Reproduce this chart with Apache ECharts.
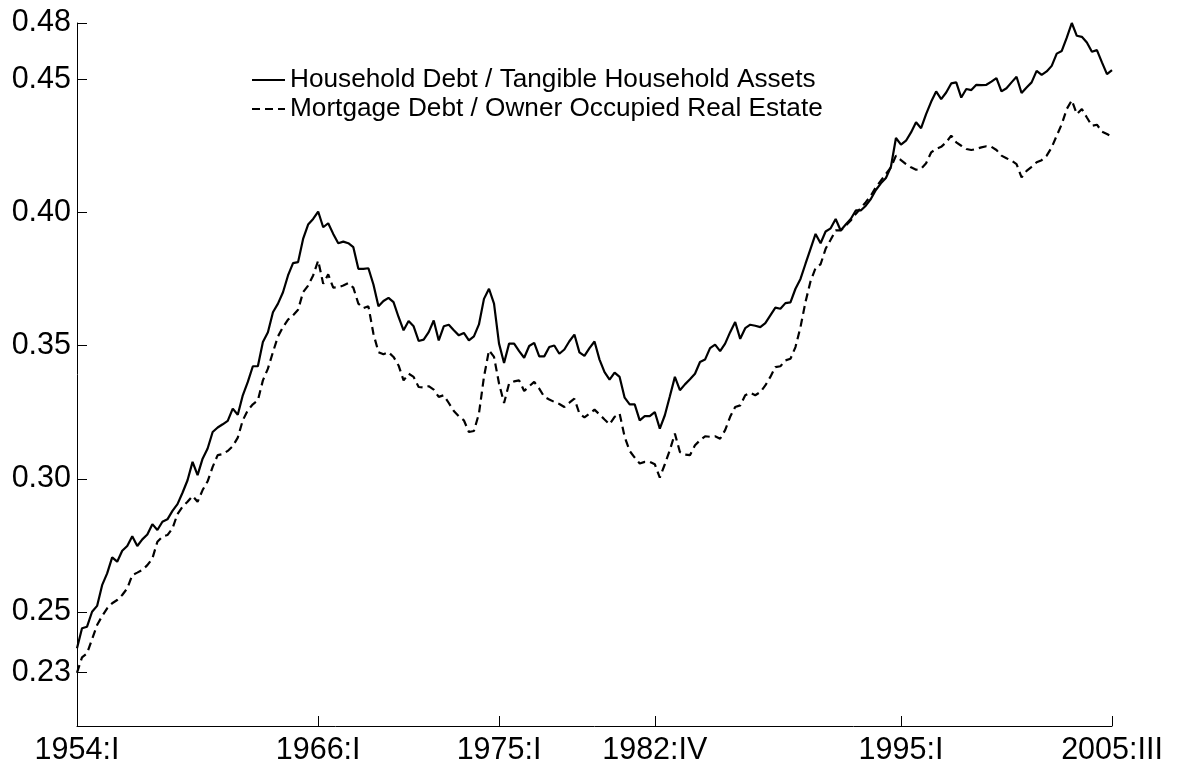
<!DOCTYPE html>
<html>
<head>
<meta charset="utf-8">
<script src="https://cdn.jsdelivr.net/npm/echarts@6/dist/echarts.min.js"></script>
<style>
html,body{margin:0;padding:0;background:#fff;}
#chart{width:1181px;height:770px;}
</style>
</head>
<body>
<div id="chart"></div>
<script>
// Quarterly categories 1954:I .. 2005:III
const romans = ['I', 'II', 'III', 'IV'];
const quarters = [];
for (let y = 1954; y <= 2005; y++) {
  for (let k = 0; k < 4; k++) {
    quarters.push(y + ':' + romans[k]);
    if (y === 2005 && k === 2) break;
  }
}
const xTickLabels = ['1954:I', '1966:I', '1975:I', '1982:IV', '1995:I', '2005:III'];
const yTickValues = [0.2272, 0.25, 0.30, 0.35, 0.40, 0.45, 0.4712];
const yTickLabels = ['0.23', '0.25', '0.30', '0.35', '0.40', '0.45', '0.48'];
const seriesNames = ['Household Debt / Tangible Household Assets', 'Mortgage Debt / Owner Occupied Real Estate'];

const householdDebt = [
0.2364,0.2439,0.2445,0.2501,0.2523,0.2601,0.2645,0.2705,0.2689,0.2730,
0.2748,0.2785,0.2748,0.2773,0.2791,0.2830,0.2808,0.2839,0.2848,0.2880,
0.2905,0.2948,0.2995,0.3064,0.3014,0.3076,0.3114,0.3176,0.3193,0.3205,
0.3218,0.3264,0.3241,0.3314,0.3364,0.3423,0.3423,0.3514,0.3551,0.3626,
0.3658,0.3701,0.3764,0.3810,0.3814,0.3901,0.3955,0.3976,0.4004,0.3945,
0.3960,0.3920,0.3885,0.3891,0.3885,0.3870,0.3789,0.3789,0.3791,0.3730,
0.3648,0.3668,0.3680,0.3664,0.3608,0.3558,0.3593,0.3573,0.3518,0.3523,
0.3551,0.3595,0.3520,0.3573,0.3579,0.3558,0.3539,0.3548,0.3520,0.3535,
0.3580,0.3676,0.3714,0.3658,0.3508,0.3435,0.3508,0.3508,0.3480,0.3455,
0.3499,0.3511,0.3460,0.3460,0.3495,0.3501,0.3470,0.3486,0.3517,0.3542,
0.3475,0.3462,0.3491,0.3516,0.3448,0.3401,0.3373,0.3399,0.3383,0.3305,
0.3280,0.3280,0.3220,0.3236,0.3236,0.3251,0.3189,0.3239,0.3310,0.3383,
0.3333,0.3355,0.3374,0.3395,0.3439,0.3448,0.3491,0.3504,0.3480,0.3508,
0.3551,0.3589,0.3526,0.3566,0.3579,0.3575,0.3570,0.3585,0.3614,0.3643,
0.3639,0.3660,0.3663,0.3714,0.3751,0.3808,0.3864,0.3920,0.3885,0.3929,
0.3941,0.3976,0.3933,0.3955,0.3976,0.4008,0.4008,0.4026,0.4051,0.4085,
0.4110,0.4130,0.4172,0.4280,0.4255,0.4270,0.4301,0.4339,0.4317,0.4370,
0.4416,0.4455,0.4426,0.4451,0.4485,0.4489,0.4432,0.4464,0.4460,0.4480,
0.4479,0.4480,0.4492,0.4505,0.4455,0.4467,0.4489,0.4510,0.4449,0.4470,
0.4489,0.4532,0.4517,0.4530,0.4551,0.4597,0.4607,0.4657,0.4712,0.4664,
0.4660,0.4639,0.4604,0.4610,0.4564,0.4520,0.4535
];

const mortgageDebt = [
0.2272,0.2330,0.2345,0.2398,0.2451,0.2485,0.2514,0.2533,0.2545,0.2564,
0.2589,0.2639,0.2648,0.2658,0.2676,0.2701,0.2764,0.2783,0.2789,0.2814,
0.2868,0.2895,0.2914,0.2936,0.2914,0.2958,0.2991,0.3045,0.3089,0.3093,
0.3105,0.3123,0.3155,0.3220,0.3258,0.3280,0.3295,0.3370,0.3414,0.3476,
0.3535,0.3570,0.3598,0.3614,0.3635,0.3701,0.3726,0.3764,0.3820,0.3733,
0.3768,0.3718,0.3720,0.3726,0.3735,0.3718,0.3658,0.3641,0.3648,0.3545,
0.3476,0.3468,0.3476,0.3458,0.3426,0.3370,0.3395,0.3383,0.3345,0.3343,
0.3348,0.3335,0.3308,0.3314,0.3285,0.3255,0.3235,0.3220,0.3176,0.3180,
0.3245,0.3383,0.3483,0.3458,0.3358,0.3285,0.3358,0.3366,0.3370,0.3330,
0.3348,0.3364,0.3339,0.3308,0.3298,0.3289,0.3281,0.3270,0.3286,0.3301,
0.3245,0.3231,0.3245,0.3260,0.3242,0.3223,0.3205,0.3233,0.3245,0.3158,
0.3105,0.3080,0.3058,0.3064,0.3064,0.3055,0.3005,0.3055,0.3108,0.3170,
0.3101,0.3091,0.3089,0.3126,0.3145,0.3160,0.3158,0.3160,0.3151,0.3183,
0.3233,0.3270,0.3276,0.3314,0.3323,0.3314,0.3326,0.3351,0.3383,0.3420,
0.3423,0.3445,0.3451,0.3495,0.3570,0.3665,0.3742,0.3792,0.3806,0.3864,
0.3898,0.3933,0.3933,0.3951,0.3970,0.3995,0.4017,0.4039,0.4064,0.4095,
0.4120,0.4145,0.4170,0.4214,0.4197,0.4182,0.4170,0.4161,0.4164,0.4185,
0.4226,0.4239,0.4247,0.4264,0.4289,0.4264,0.4251,0.4239,0.4235,0.4239,
0.4245,0.4249,0.4247,0.4235,0.4214,0.4204,0.4195,0.4182,0.4132,0.4157,
0.4172,0.4189,0.4197,0.4214,0.4245,0.4289,0.4332,0.4389,0.4422,0.4370,
0.4389,0.4357,0.4326,0.4330,0.4304,0.4295,0.4285
];

const FONT = "'Liberation Sans', Arial, Helvetica, sans-serif";
const chart = echarts.init(document.getElementById('chart'), null, {renderer: 'canvas'});
const isXTick = (i, v) => xTickLabels.indexOf(quarters[i]) >= 0;

chart.setOption({
  animation: false,
  backgroundColor: '#ffffff',
  grid: {left: 77, right: 69, top: 23, bottom: 44, containLabel: false, outerBoundsMode: 'none'},
  legend: {
    orient: 'vertical',
    left: 251,
    top: 67,
    padding: 0,
    itemGap: 3,
    itemWidth: 33,
    itemHeight: 14,
    selectedMode: false,
    itemStyle: {opacity: 0},
    textStyle: {fontFamily: FONT, fontSize: 26.2, color: '#000'},
    data: seriesNames
  },
  xAxis: {
    type: 'category',
    boundaryGap: false,
    data: quarters,
    axisLine: {show: true, lineStyle: {color: '#000', width: 1}},
    axisTick: {show: true, inside: true, length: 10, interval: isXTick, lineStyle: {color: '#000', width: 1}},
    axisLabel: {interval: isXTick, fontFamily: FONT, fontSize: 30.5, color: '#000', margin: 9},
    splitLine: {show: false}
  },
  yAxis: {
    type: 'value',
    min: 0.2072,
    max: 0.4712,
    axisLine: {show: true, lineStyle: {color: '#000', width: 1}},
    axisTick: {show: true, inside: true, length: 10, customValues: yTickValues, lineStyle: {color: '#000', width: 1}},
    axisLabel: {
      customValues: yTickValues,
      fontFamily: FONT, fontSize: 30.5, color: '#000', margin: 6,
      formatter: function (v) {
        const i = yTickValues.findIndex(t => Math.abs(t - v) < 1e-6);
        return i >= 0 ? yTickLabels[i] : '';
      }
    },
    splitLine: {show: false}
  },
  series: [
    {
      name: seriesNames[0],
      type: 'line',
      data: householdDebt,
      symbol: 'none',
      lineStyle: {color: '#000', width: 2.2, type: 'solid'},
      itemStyle: {color: '#000'}
    },
    {
      name: seriesNames[1],
      type: 'line',
      data: mortgageDebt,
      symbol: 'none',
      lineStyle: {color: '#000', width: 2.2, type: [8, 5]},
      itemStyle: {color: '#000'}
    }
  ]
});
</script>
</body>
</html>
